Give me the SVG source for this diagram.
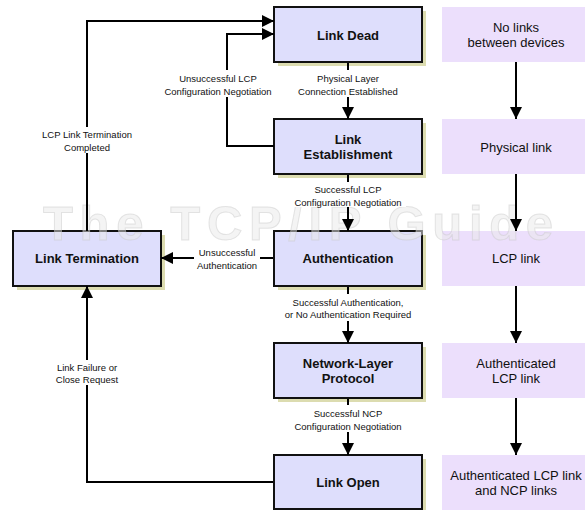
<svg xmlns="http://www.w3.org/2000/svg" width="585" height="510" viewBox="0 0 585 510">
<style>
.shadow{fill:#dcdcb0}
.state{fill:#dedefc;stroke:#111;stroke-width:2}
.info{fill:#ecdffc}
.sl{font-family:"Liberation Sans",Arial,sans-serif;font-size:13px;font-weight:bold;fill:#111;text-anchor:middle}
.il{font-family:"Liberation Sans",Arial,sans-serif;font-size:13px;fill:#111;text-anchor:middle}
.cl{font-family:"Liberation Sans",Arial,sans-serif;font-size:9.5px;fill:#111;text-anchor:middle}
.ln{fill:none;stroke:#000;stroke-width:2;marker-end:url(#ah)}
.bg{fill:#fff}
.wm{font-family:"Liberation Sans",Arial,sans-serif;font-size:49px;font-weight:bold;fill:#eaeaea;fill-opacity:0.5;stroke:#c8c8c8;stroke-opacity:0.45;stroke-width:1}
</style>
<defs>
<marker id="ah" markerUnits="userSpaceOnUse" markerWidth="12" markerHeight="12" refX="12" refY="6" orient="auto">
<path d="M0,0 L12,6 L0,12 z" fill="#000"/>
</marker>
</defs>
<rect width="585" height="510" fill="#fff"/>

<g id="info-boxes">
<g id="info-none"><rect class="info" x="442" y="7" width="143" height="55"/><text class="il" x="516" y="31.5">No links</text><text class="il" x="516" y="46.5">between devices</text></g>
<g id="info-physical"><rect class="info" x="442" y="119" width="143" height="55"/><text class="il" x="516" y="151.5">Physical link</text></g>
<g id="info-lcp"><rect class="info" x="442" y="231" width="143" height="55"/><text class="il" x="516" y="262.5">LCP link</text></g>
<g id="info-auth"><rect class="info" x="442" y="343" width="143" height="55"/><text class="il" x="516" y="367.5">Authenticated</text><text class="il" x="516" y="382.5">LCP link</text></g>
<g id="info-ncp"><rect class="info" x="442" y="455" width="143" height="55"/><text class="il" x="516" y="480">Authenticated LCP link</text><text class="il" x="516" y="494.5">and NCP links</text></g>
</g>

<g id="link-dead"><rect class="shadow" x="278" y="11" width="148" height="55"/><rect class="state" x="274" y="7" width="148" height="55"/><text class="sl" x="348" y="39.5">Link Dead</text></g>
<g id="link-establishment"><rect class="shadow" x="278" y="123" width="148" height="55"/><rect class="state" x="274" y="119" width="148" height="55"/><text class="sl" x="348" y="143.5">Link</text><text class="sl" x="348" y="158.5">Establishment</text></g>
<g id="authentication"><rect class="shadow" x="278" y="235" width="148" height="55"/><rect class="state" x="274" y="231" width="148" height="55"/><text class="sl" x="348" y="262.5">Authentication</text></g>
<g id="network-layer-protocol"><rect class="shadow" x="278" y="347" width="148" height="55"/><rect class="state" x="274" y="343" width="148" height="55"/><text class="sl" x="348" y="367.5">Network-Layer</text><text class="sl" x="348" y="382.5">Protocol</text></g>
<g id="link-open"><rect class="shadow" x="278" y="459" width="148" height="55"/><rect class="state" x="274" y="455" width="148" height="54"/><text class="sl" x="348" y="486.5">Link Open</text></g>
<g id="link-termination"><rect class="shadow" x="17" y="235" width="148" height="55"/><rect class="state" x="13" y="231" width="148" height="55"/><text class="sl" x="87" y="262.5">Link Termination</text></g>

<text class="wm" x="43" y="240" textLength="510" lengthAdjust="spacing">The TCP/IP Guide</text>

<g id="connectors">
<path class="ln" d="M87,231 V21 H274"/>
<path class="ln" d="M274,146 H227 V34 H274"/>
<path class="ln" d="M348,63 V119"/>
<path class="ln" d="M348,175 V231"/>
<path class="ln" d="M273,258 H161"/>
<path class="ln" d="M348,287 V343"/>
<path class="ln" d="M348,399 V455"/>
<path class="ln" d="M273,482 H87 V286"/>
<path class="ln" d="M516,62 V119"/>
<path class="ln" d="M516,174 V231"/>
<path class="ln" d="M516,286 V343"/>
<path class="ln" d="M516,398 V455"/>

<rect class="bg" x="30" y="127" width="114" height="26"/>
<text class="cl" x="87" y="137.5">LCP Link Termination</text><text class="cl" x="87" y="150.5">Completed</text>

<rect class="bg" x="160" y="70" width="118" height="27"/>
<text class="cl" x="218" y="81.5">Unsuccessful LCP</text><text class="cl" x="218" y="94.5">Configuration Negotiation</text>

<rect class="bg" x="293" y="70" width="110" height="27"/>
<text class="cl" x="348" y="81.5">Physical Layer</text><text class="cl" x="348" y="94.5">Connection Established</text>

<rect class="bg" x="290" y="182" width="116" height="25"/>
<text class="cl" x="348" y="193">Successful LCP</text><text class="cl" x="348" y="205.5">Configuration Negotiation</text>

<rect class="bg" x="194" y="246" width="66" height="25"/>
<text class="cl" x="227" y="256">Unsuccessful</text><text class="cl" x="227" y="268.5">Authentication</text>

<rect class="bg" x="280" y="294" width="136" height="27"/>
<text class="cl" x="348" y="305.5">Successful Authentication,</text><text class="cl" x="348" y="317.5">or No Authentication Required</text>

<rect class="bg" x="290" y="405" width="116" height="27"/>
<text class="cl" x="348" y="416.5">Successful NCP</text><text class="cl" x="348" y="429.5">Configuration Negotiation</text>

<rect class="bg" x="50" y="360" width="74" height="25"/>
<text class="cl" x="87" y="370.5">Link Failure or</text><text class="cl" x="87" y="382.5">Close Request</text>
</g>
</svg>
